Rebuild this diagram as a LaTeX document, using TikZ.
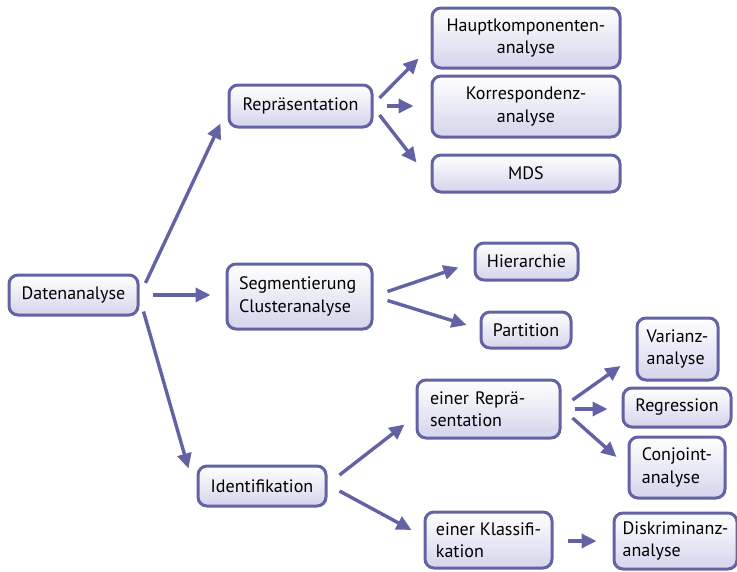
\documentclass[tikz,border=0pt]{standalone}
\usepackage{fontspec}
\setmainfont{PT Sans}
\usetikzlibrary{arrows.meta,calc}
\definecolor{dablue}{HTML}{6262A5}
\definecolor{dafill}{HTML}{D4D4EC}

\tikzset{
  dabox/.style={rectangle, rounded corners=9pt, draw=dablue, line width=3pt,
      top color=white, bottom color=dafill, inner sep=0pt, font=\fontsize{18}{22.5}\selectfont},
  daarrow/.style={draw=dablue, line width=3.4pt,
      -{Triangle[length=15pt,width=14pt]}}
}

\begin{document}
\begin{tikzpicture}[x=1pt, y=-1pt]
\useasboundingbox (0,0) rectangle (737,571);

% left column
\node[dabox, minimum width=129, minimum height=40] (dat) at (73.5,295) {Datenanalyse};

% second column
\node[dabox, minimum width=143, minimum height=42] (rep) at (300.5,106) {Repräsentation};
\node[dabox, minimum width=145, minimum height=65, text width=121, align=left] (seg) at (299.5,296.5)
  {Segmentierung\\Clusteranalyse};
\node[dabox, minimum width=128, minimum height=40] (ide) at (262,486) {Identifikation};

% methods for Repraesentation
\node[dabox, minimum width=188, minimum height=60, align=center] (hka) at (526,38)
  {Hauptkomponenten-\\analyse};
\node[dabox, minimum width=188, minimum height=61, align=center] (kor) at (526,106.5)
  {Korrespondenz-\\analyse};
\node[dabox, minimum width=188, minimum height=37] (mds) at (526,173.5) {MDS};

% methods for Segmentierung
\node[dabox, minimum width=103, minimum height=37] (hie) at (526.5,261.5) {Hierarchie};
\node[dabox, minimum width=90, minimum height=36] (par) at (526,330) {Partition};

% Identifikation
\node[dabox, minimum width=143, minimum height=58, text width=117, align=left] (erep) at (488.5,409)
  {einer Reprä-\\sentation};
\node[dabox, minimum width=127, minimum height=56, align=left] (ekla) at (488.5,540)
  {einer Klassifi-\\kation};

\node[dabox, minimum width=81, minimum height=62, align=left] (var) at (677.5,349)
  {Varianz-\\analyse};
\node[dabox, minimum width=108, minimum height=39] (reg) at (677,407.5) {Regression};
\node[dabox, minimum width=96, minimum height=61, align=left] (con) at (677,467.5)
  {Conjoint-\\analyse};
\node[dabox, minimum width=123, minimum height=56, align=left] (dis) at (675.5,541)
  {Diskriminanz-\\analyse};

% connectors
\draw[daarrow] ([shift={(6,-12)}]dat.east) -- ([shift={(-7,-5)}]rep.south west);
\draw[daarrow] ([shift={(13,0)}]dat.east) -- ([shift={(-15,-1.5)}]seg.west);
\draw[daarrow] ([shift={(4,-5)}]dat.south east) -- ([shift={(-8,4)}]ide.north west);

\draw[daarrow] ([shift={(6,-8)}]rep.east) -- ([shift={(-12,-11)}]hka.south west);
\draw[daarrow] ([shift={(13,0)}]rep.east) -- ([shift={(-17,-0.5)}]kor.west);
\draw[daarrow] ([shift={(6,9)}]rep.east) -- ([shift={(-14,-11)}]mds.west);

\draw[daarrow] ([shift={(14,-5)}]seg.east) -- ([shift={(-15,6)}]hie.west);
\draw[daarrow] ([shift={(14,4)}]seg.east) -- ([shift={(-13,-5)}]par.west);

\draw[daarrow] ([shift={(12,-11)}]ide.east) -- ([shift={(-11,-15)}]erep.south west);
\draw[daarrow] ([shift={(12,5)}]ide.east) -- ([shift={(-12,-10)}]ekla.west);

\draw[daarrow] ([shift={(11,-9)}]erep.east) -- ([shift={(-15,17)}]var.west);
\draw[daarrow] ([shift={(13,0)}]erep.east) -- ([shift={(-14,1.5)}]reg.west);
\draw[daarrow] ([shift={(11,9)}]erep.east) -- ([shift={(-11,-10.5)}]con.west);

\draw[daarrow] ([shift={(14,1)}]ekla.east) -- ([shift={(-16,0)}]dis.west);
\end{tikzpicture}
\end{document}
